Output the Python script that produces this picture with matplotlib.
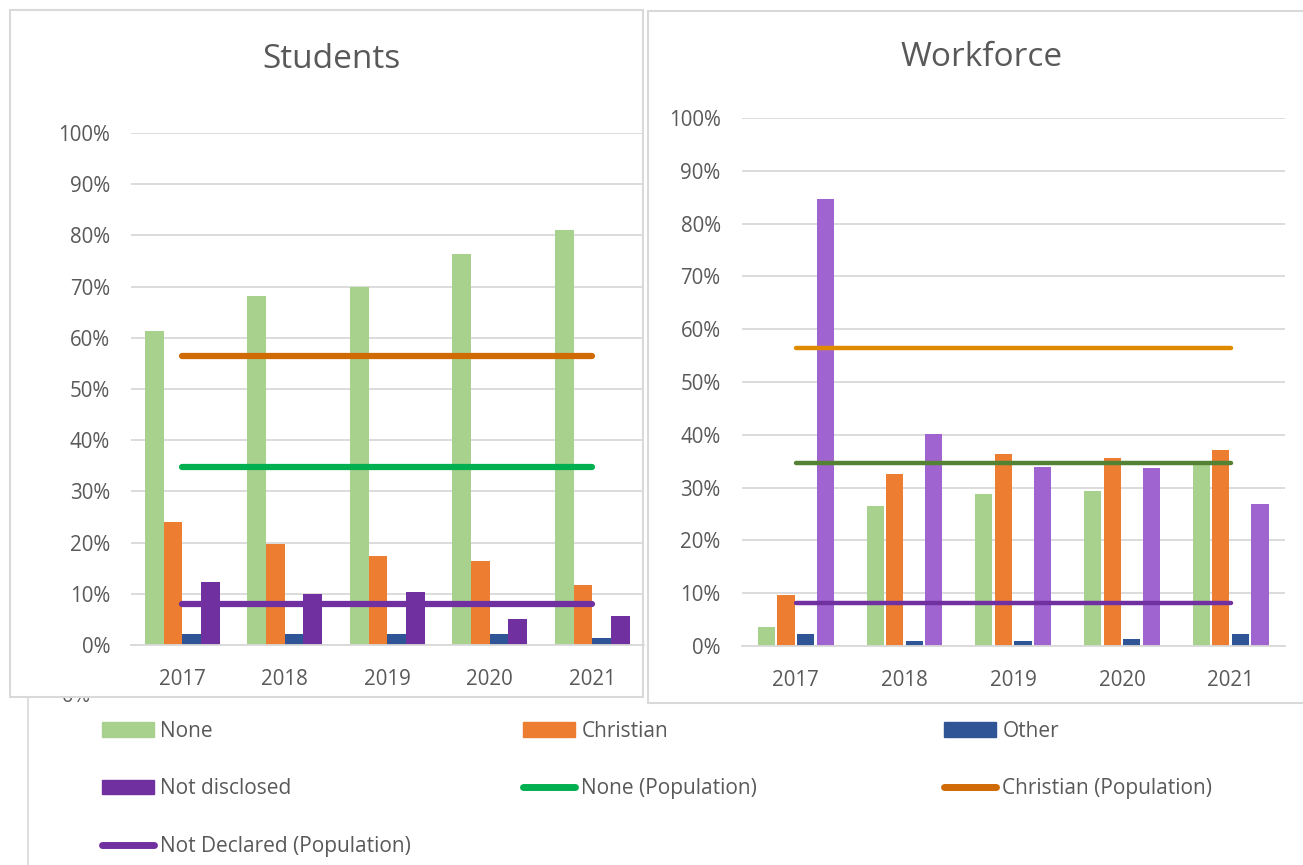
"""
Religion of students and workforce against population, 2017-2021.
"""

import matplotlib
matplotlib.use("Agg")
import matplotlib.pyplot as plt
from matplotlib.patches import Rectangle, Patch
from matplotlib.lines import Line2D
from matplotlib.ticker import PercentFormatter
import numpy as np

plt.rcParams['font.family'] = ['Open Sans', 'DejaVu Sans']

years = ['2017', '2018', '2019', '2020', '2021']

stu_none = [61.3, 68.1, 70.0, 76.3, 81.1]
stu_christian = [24.0, 19.7, 17.3, 16.4, 11.8]
stu_other = [2.2, 2.1, 2.1, 2.1, 1.3]
stu_notdisc = [12.3, 9.9, 10.4, 5.1, 5.6]

wf_none = [3.6, 26.6, 28.8, 29.4, 34.8]
wf_christian = [9.7, 32.6, 36.4, 35.6, 37.1]
wf_other = [2.3, 0.9, 0.9, 1.3, 2.2]
wf_notdisc = [84.6, 40.1, 33.9, 33.8, 26.8]

pop_none = 34.7
pop_christian = 56.4
pop_notdecl = 8.1

GREY = '#595959'
GRID = '#D9D9D9'

W, H = 1303, 865
fig = plt.figure(figsize=(W / 100, H / 100), dpi=100)


def px(x0, y0, x1, y1):
    # pixel box (top-left origin) -> figure fraction rect
    return [x0 / W, 1 - y1 / H, (x1 - x0) / W, (y1 - y0) / H]


# background bits peeking out from behind the two chart boxes
fig.add_artist(Line2D([28 / W, 28 / W], [0, 1 - 697 / H], color=GRID, lw=1.2, zorder=-3))
fig.text(76 / W, 1 - 697 / H, '0%', ha='center', va='center', fontsize=14.5,
         color=GREY, zorder=-2)

for box in [px(10, 10, 643, 697), px(648, 11, 1310, 703)]:
    fig.add_artist(Rectangle(box[:2], box[2], box[3], transform=fig.transFigure,
                             facecolor='white', edgecolor=GRID, lw=1.5, zorder=-1))


def panel(rect, title, title_xy, none, christian, other, notdisc,
          nd_color, pop_colors, lw, width, step):
    ax = fig.add_axes(rect)
    ax.set_facecolor('none')
    x = np.arange(len(years))
    series = [(none, '#A9D18E'), (christian, '#ED7D31'),
              (other, '#2F5597'), (notdisc, nd_color)]
    for i, (vals, col) in enumerate(series):
        ax.bar(x + (i - 1.5) * step, vals, width=width, color=col, zorder=2)
    for val, col in zip([pop_christian, pop_none, pop_notdecl], pop_colors):
        ax.plot([x[0], x[-1]], [val, val], color=col, lw=lw,
                solid_capstyle='round', marker='', zorder=3)
    ax.set_xlim(-0.5, len(years) - 0.5)
    ax.set_ylim(0, 100)
    ax.set_yticks(np.arange(0, 101, 10))
    ax.yaxis.set_major_formatter(PercentFormatter(100, decimals=0))
    ax.set_xticks(x)
    ax.set_xticklabels(years)
    ax.grid(axis='y', color=GRID, lw=1.3, zorder=0)
    ax.set_axisbelow(True)
    for s in ['top', 'right', 'left']:
        ax.spines[s].set_visible(False)
    ax.spines['bottom'].set_color(GRID)
    ax.spines['bottom'].set_linewidth(1.3)
    ax.tick_params(axis='y', length=0, pad=15, labelsize=14.8, labelcolor=GREY)
    ax.tick_params(axis='x', length=0, pad=17, labelsize=14.8, labelcolor=GREY)
    fig.text(title_xy[0] / W, 1 - title_xy[1] / H, title, ha='center', va='center',
             fontsize=24, color=GREY)
    return ax


panel(px(131, 133, 643.5, 645), 'Students', (331, 60),
      stu_none, stu_christian, stu_other, stu_notdisc,
      '#7030A0', ['#D06A05', '#00B050', '#7030A0'], 4.5, 0.182, 0.182)
panel(px(741.5, 118, 1285, 646), 'Workforce', (982, 57),
      wf_none, wf_christian, wf_other, wf_notdisc,
      '#A064D0', ['#E08A00', '#548235', '#7030A0'], 3.2, 0.158, 0.18)

# legend laid out as Excel does: three equal-width columns
cols = [
    [Patch(color='#A9D18E', label='None'),
     Patch(color='#7030A0', label='Not disclosed'),
     Line2D([], [], color='#7030A0', lw=5, solid_capstyle='round',
            label='Not Declared (Population)')],
    [Patch(color='#ED7D31', label='Christian'),
     Line2D([], [], color='#00B050', lw=5, solid_capstyle='round',
            label='None (Population)')],
    [Patch(color='#2F5597', label='Other'),
     Line2D([], [], color='#D06A05', lw=5, solid_capstyle='round',
            label='Christian (Population)')],
]
for xpos, handles in zip([102, 523, 944], cols):
    leg = fig.legend(handles=handles, loc='upper left',
                     bbox_to_anchor=(xpos / W, 1 - 721 / H),
                     frameon=False, fontsize=15, borderpad=0, borderaxespad=0,
                     handlelength=2.5, handleheight=0.7, handletextpad=0.3,
                     labelspacing=1.75)
    for t in leg.get_texts():
        t.set_color(GREY)

fig.savefig('out.png', dpi=100)
